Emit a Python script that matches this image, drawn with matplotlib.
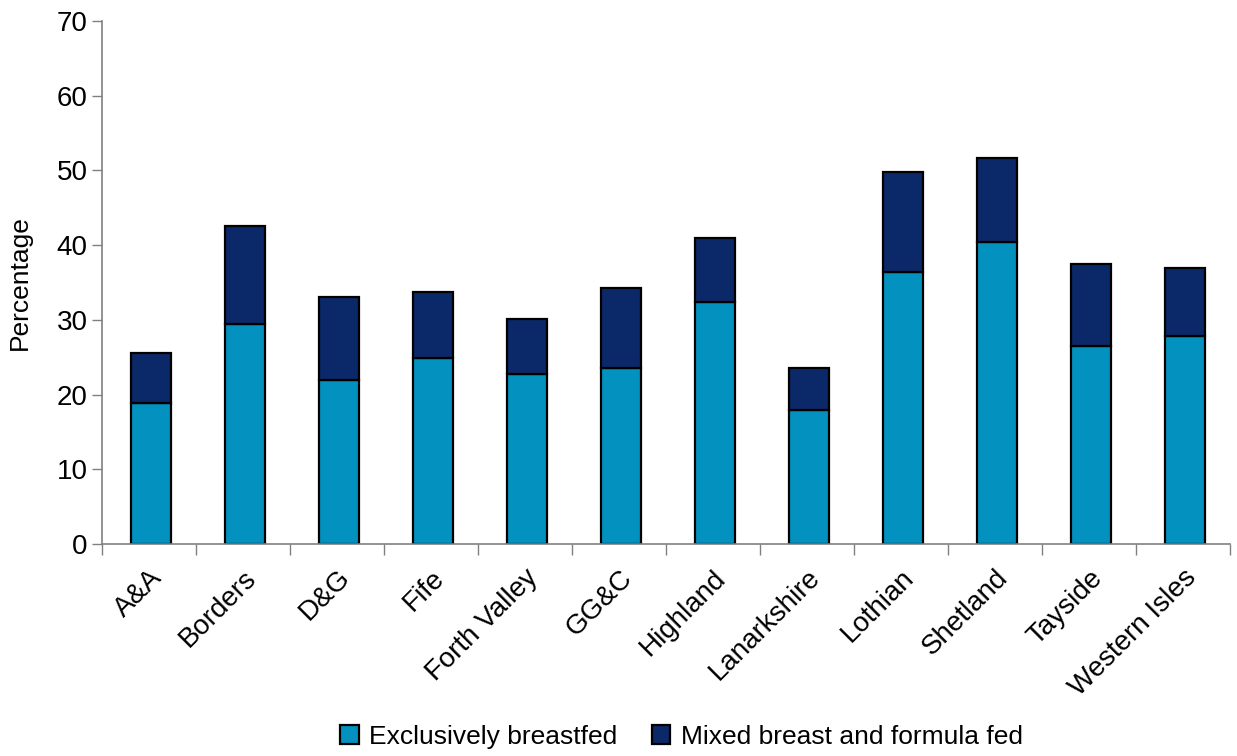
import matplotlib.pyplot as plt
import numpy as np

plt.rcParams["font.family"] = ["Liberation Sans", "DejaVu Sans"]

regions = [
    "A&A", "Borders", "D&G", "Fife", "Forth Valley", "GG&C",
    "Highland", "Lanarkshire", "Lothian", "Shetland", "Tayside", "Western Isles",
]
exclusive = [18.9, 29.4, 21.9, 24.9, 22.8, 23.5, 32.4, 17.9, 36.4, 40.4, 26.5, 27.8]
total = [25.6, 42.6, 33.0, 33.7, 30.1, 34.3, 41.0, 23.6, 49.8, 51.7, 37.5, 37.0]
mixed = [t - e for t, e in zip(total, exclusive)]

light_blue = "#0392C0"
dark_blue = "#0B2868"
axis_grey = "#808080"

fig = plt.figure(figsize=(12.37, 7.56), dpi=100)
ax = fig.add_axes([102 / 1237, 1 - 544 / 756, 1128 / 1237, 523 / 756])

x = np.arange(len(regions))
ax.bar(x + 0.02, exclusive, width=0.43, color=light_blue, edgecolor="black",
       linewidth=1.6, label="Exclusively breastfed")
ax.bar(x + 0.02, mixed, width=0.43, bottom=exclusive, color=dark_blue,
       edgecolor="black", linewidth=1.6, label="Mixed breast and formula fed")

ax.set_xlim(-0.5, len(regions) - 0.5)
ax.set_ylim(0, 70)
ax.set_yticks(np.arange(0, 71, 10))
ax.tick_params(axis="y", labelsize=20, length=7, color=axis_grey, width=1)

# category labels centred, ticks on the boundaries
ax.set_xticks(x)
ax.set_xticklabels(regions, rotation=45, ha="right", rotation_mode="anchor",
                   fontsize=20)
ax.tick_params(axis="x", which="major", length=0, pad=15)
ax.set_xticks(np.arange(-0.5, len(regions)), minor=True)
ax.tick_params(axis="x", which="minor", length=8, color=axis_grey, width=1)

for side in ["top", "right"]:
    ax.spines[side].set_visible(False)
for side in ["left", "bottom"]:
    ax.spines[side].set_color(axis_grey)
    ax.spines[side].set_linewidth(1.2)

ax.set_ylabel("Percentage", fontsize=19, labelpad=18)

fig.legend(loc="lower center", bbox_to_anchor=(0.551, -0.022), ncol=2,
           frameon=False, fontsize=19, handlelength=0.7, handleheight=0.7,
           handletextpad=0.4, columnspacing=1.3)

fig.savefig("out.png", dpi=100)
